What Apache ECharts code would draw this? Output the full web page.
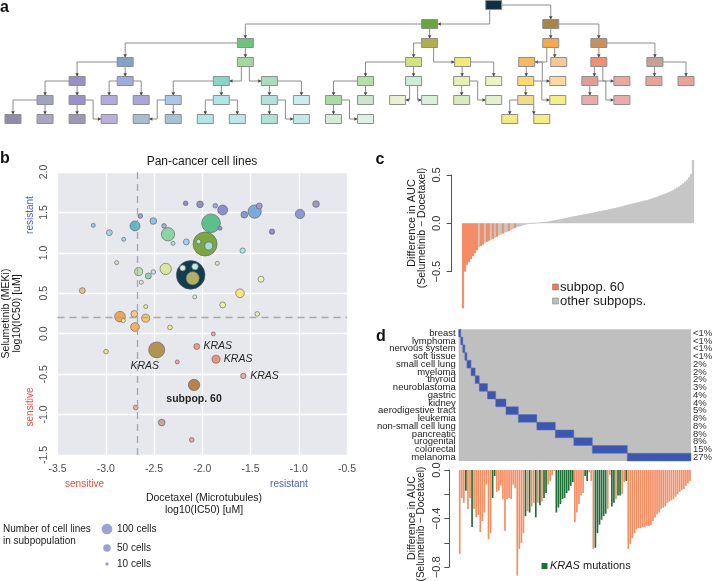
<!DOCTYPE html>
<html><head><meta charset="utf-8">
<script src="https://cdn.jsdelivr.net/npm/echarts@6/dist/echarts.min.js"></script>
<style>html,body{margin:0;padding:0;background:#fff}#c{width:713px;height:581px}</style>
</head><body><div id="c"></div>
<script>
// ===== Panel a: hierarchy of subpopulations =====
const treeCols = [15, 13,16.78, 7.25,13,16.78,18.28,
  3.5,7.25,12.5,14.03,16.03,17.03,18.28,20.03,
  2,3.5,6.5,8,11,12.5,14,15,16,17,18,19,20,21,
  1,2,3,4,5,6.5,8,9,10,11,12,13,14,15,16,17,18,19,
  0,1,2,3,4,5,6,7,8,9,10,11,15.5,16.5];
const treeLevels = [0, 1,1, 2,2,2,2,
  3,3,3,3,3,3,3,3,
  4,4,4,4,4,4,4,4,4,4,4,4,4,4,
  5,5,5,5,5,5,5,5,5,5,5,5,5,5,5,5,5,5,
  6,6,6,6,6,6,6,6,6,6,6,6,6,6];
const treeEdges = [[0,1,'v'],[0,2,'h'],[1,3,'h'],[1,4,'d'],[2,5,'d'],[2,6,'h'],
  [3,7,'h'],[3,8,'d'],[4,9,'h'],[4,10,'v'],[5,11,'v'],[5,12,'d'],[6,13,'d'],[6,14,'h'],
  [7,15,'h'],[7,16,'d'],[8,17,'v'],[8,18,'v'],[9,19,'h'],[9,20,'d'],[10,21,'d'],[10,22,'h'],
  [11,23,'d'],[11,24,'z'],[13,25,'d'],[13,26,'v'],[14,27,'d'],[14,28,'h'],
  [15,29,'h'],[15,30,'d'],[16,31,'h'],[16,32,'h'],[17,33,'h'],[17,34,'d'],[18,35,'d'],[18,36,'h'],
  [19,37,'h'],[19,38,'d'],[20,39,'v'],[20,40,'v'],[21,41,'d'],[21,42,'z'],[23,43,'d'],[23,44,'z'],
  [25,45,'d'],[25,46,'z'],[29,47,'h'],[29,48,'d'],[30,49,'d'],[30,50,'z'],[33,51,'z'],[33,52,'d'],
  [34,53,'h'],[34,54,'h'],[35,55,'d'],[35,56,'z'],[37,57,'d'],[37,58,'z'],[43,59,'h'],[43,60,'d']];
const treeColors = ['#0f2d44','#6aa53c','#a88446','#70c37a','#aeb04e','#f6a94a','#c98f5f',
  '#80a3c6','#a2d89e','#d5e283','#efea7b','#f8b862','#f7c79b','#ec9174','#c7a193',
  '#9b8fc9','#a1aadf','#8ad6c6','#abdcc2','#b7e0a8','#d0eadb','#e6efb4','#eef3c4','#fcd875','#fbd9a2','#e09c9a','#e6aaa0','#e6a496','#e8a496',
  '#a2a3bf','#9c90c8','#b3aadd','#aba6da','#a9c8e8','#b2e6e6','#b2e2d8','#cbeded','#a9dca2','#cbe6cc','#e9f1d2','#d9f0da','#dbe9bc','#e7f0cc','#f2dc8c','#f6ee8a','#e6adaa','#e6adaa',
  '#8f8da9','#a9a5c2','#9d99b5','#baaedd','#a9bdd1','#a9c1d6','#b2e7e7','#bee7e7','#b2e1d6','#c2e9e6','#d5ecda','#ddf1e7','#f4ea82','#f4ee84'];

// ===== Panel b: subpopulation bubbles =====
const bXTicks = [-3.5,-3.0,-2.5,-2.0,-1.5,-1.0,-0.5];
const bYTicks = [-1.5,-1.0,-0.5,0.0,0.5,1.0,1.5,2.0];
const bubbleX = [-2.172,-2.023,-1.865,-1.788,-2.642,-2.507,-2.396,-3.129,-2.697,-1.909,
  -1.816,-2.355,-2.963,-2.814,-2.303,-2.165,-1.971,-2.037,-1.933,-2.887,
  -1.844,-2.12,-2.203,-2.075,-2.099,-2.379,-2.659,-2.559,-2.507,-2.632,
  -3.243,-1.609,-2.078,-1.788,-2.586,-1.391,-1.564,-1.457,-1.409,-1.581,
  -1.277,-0.987,-0.821,-1.43,-2.852,-2.818,-2.704,-2.586,-2.697,-2.334,
  -1.885,-2.057,-2.472,-2.997,-2.259,-1.857,-1.575,-2.085,-2.69,-2.42,-2.109];
const bubbleY = [1.613,1.60,1.583,1.53,1.456,1.394,1.333,1.341,1.333,1.366,
  1.304,1.23,1.25,1.168,1.118,1.135,1.11,1.139,1.085,0.879,
  0.871,0.727,0.813,0.83,0.686,0.801,0.768,0.714,0.764,0.636,
  0.533,0.50,0.455,0.356,0.335,0.674,1.472,1.51,1.58,1.027,
  1.262,1.481,1.604,0.245,0.211,0.162,0.245,0.192,0.083,0.078,
  -0.002,-0.159,-0.20,-0.221,-0.349,-0.315,-0.522,-0.633,-0.913,-1.099,-1.313];
const bubbleCells = [19,39,19,87,19,39,19,14,87,305,
  14,155,31,14,14,31,503,19,56,14,
  14,718,31,39,155,112,56,31,19,14,
  31,66,14,31,14,31,39,155,31,25,
  25,76,39,19,99,14,39,56,66,19,
  14,31,224,19,14,56,25,113,19,39,19];
const bubbleNotes = {51:'KRAS', 52:'KRAS', 55:'KRAS', 56:'KRAS', 57:'subpop. 60'};
const cutDocetaxel = -2.67;
const cutSelumetinib = 0.2;
const legendCells = [100, 50, 10];
// styles (colours per bubble)
const bubbleColors = ['#8d8fc9','#9090cc','#a5a7d6','#8b8fd0','#90a8cc','#8ec2e6','#a6b0d8','#9ccbe6','#62b7c4','#5cbf8e',
  '#9a95cc','#8fd2a4','#a3d3ea','#a8d2ea','#b4e2d2','#a0d4ec','#79a843','#b0e4e8','#a6dcd8','#c4e6c0',
  '#dce8d0','#0f3d52','#dff0d8','#c6e8dc','#b5ad66','#dce6a0','#bedfb4','#98d0b4','#c4dde8','#d8eadc',
  '#f2b888','#f2e57a','#e2ecc8','#eef0a8','#f4e98a','#eef2c4','#8898d0','#7aaad8','#9da0c8','#b0e2ec',
  '#8c8fd0','#8a9ad4','#9a96d0','#e6f0c8','#f4a456','#f6ee9a','#f8ca80','#f6c866','#f6b060','#f4ec8c',
  '#e8aaa8','#e4a090','#b39254','#f8dc9a','#eca8a4','#ec9278','#e8aaa0','#b5824e','#e6a8a4','#c9a49c','#e6a8a4'];

// ===== Panel c: all cell lines, sorted AUC difference =====
const aucDiffAll = [-0.88,-0.50,-0.43,-0.40,-0.37,-0.34,-0.31,-0.28,-0.25,-0.235,
  -0.22,-0.20,-0.19,-0.18,-0.17,-0.16,-0.15,-0.14,-0.125,-0.115,
  -0.105,-0.095,-0.09,-0.08,-0.07,-0.058,-0.05,-0.04,-0.034,-0.028,
  -0.02,-0.015,-0.01,-0.006,-0.003,0.001,0.003,0.006,0.008,0.011,
  0.013,0.015,0.017,0.021,0.025,0.029,0.033,0.037,0.041,0.045,
  0.049,0.054,0.058,0.062,0.067,0.071,0.075,0.079,0.083,0.087,
  0.091,0.095,0.099,0.103,0.107,0.111,0.116,0.12,0.124,0.128,
  0.132,0.136,0.14,0.145,0.149,0.154,0.158,0.163,0.168,0.174,
  0.179,0.185,0.19,0.196,0.201,0.206,0.211,0.216,0.221,0.226,
  0.231,0.236,0.24,0.247,0.254,0.261,0.268,0.276,0.283,0.291,
  0.298,0.306,0.315,0.324,0.333,0.342,0.355,0.368,0.381,0.395,
  0.412,0.43,0.45,0.475,0.51,0.655];
const inSubpop60 = [1,1,1,1,1,1,1,1,0,1, 1,0,1,1,0,1,0,1,0,0, 1,0,0,1,0,0,1,0,0,0,
  0,0,0,0,0,0,0,0,0,0, 0,0,0,0,0,0,0,0,0,0, 0,0,0,0,0,0,0,0,0,0,
  0,0,0,0,0,0,0,0,0,0, 0,0,0,0,0,0,0,0,0,0, 0,0,0,0,0,0,0,0,0,0,
  0,0,0,0,0,0,0,0,0,0, 0,0,0,0,0,0,0,0,0,0, 0,0,0,0,0,0];
const cTicks = [-0.5, 0.0, 0.5];

// ===== Panel d: subpop. 60 by tissue =====
const tissues = ['breast','lymphoma','nervous system','soft tissue','small cell lung','myeloma','thyroid',
  'neuroblastoma','gastric','kidney','aerodigestive tract','leukemia','non-small cell lung','pancreatic',
  'urogenital','colorectal','melanoma'];
const tissueCounts = [1,1,1,1,2,2,2,4,4,5,6,9,9,9,9,17,31];
const tissuePct = ['<1%','<1%','<1%','<1%','2%','2%','2%','3%','4%','4%','5%','8%','8%','8%','8%','15%','27%'];
const subpop60Diff = [-0.69,-0.23,-0.27,-0.17,-0.32,-0.23,-0.47,-0.32,-0.39,-0.37,
  -0.51,-0.42,-0.35,-0.12,-0.57,-0.52,-0.23,-0.05,-0.18,-0.17,
  -0.13,-0.24,-0.50,-0.24,-0.23,-0.24,-0.12,-0.15,-0.87,-0.65,
  -0.60,-0.52,-0.38,-0.34,-0.35,-0.30,-0.27,-0.39,-0.27,-0.29,
  -0.26,-0.23,-0.19,-0.12,-0.09,-0.04,-0.01,-0.35,-0.31,-0.28,
  -0.24,-0.23,-0.19,-0.17,-0.13,-0.10,-0.43,-0.35,-0.28,-0.21,
  -0.19,-0.05,-0.09,-0.02,-0.09,-0.65,-0.64,-0.52,-0.45,-0.41,
  -0.38,-0.36,-0.32,-0.04,-0.30,-0.27,-0.24,-0.21,-0.21,-0.20,
  -0.10,-0.09,
  -0.65,-0.61,-0.56,-0.52,-0.49,-0.48,-0.48,-0.47,-0.47,-0.46,
  -0.46,-0.455,-0.42,-0.39,-0.365,-0.35,-0.32,-0.31,-0.30,-0.27,
  -0.26,-0.25,-0.24,-0.22,-0.20,-0.18,-0.165,-0.155,-0.13,-0.11,-0.09];
const krasMut = [0,0,0,1,0,0,1,0,0,0, 0,0,0,0,0,0,1,1,0,0, 0,0,0,0,0,0,0,0,0,0,
  0,0,1,0,1,0,0,1,0,1, 0,1,1,0,0,0,0,1,1,1, 1,1,1,1,1,1,0,0,0,0,
  0,1,1,0,0,0,1,1,1,1, 1,1,0,0,1,1,0,1,1,0, 0,1,
  0,0,0,0,0,0,0,0,0,0, 0,0,0,0,0,0,0,0,0,0, 0,0,0,0,0,0,0,0,0,0,0];
const dTicks = [-0.8,-0.6,-0.4,-0.2,0.0];

// ===== build =====
const FF = 'Liberation Sans, Arial, sans-serif';
const ORANGE_C = '#f27a4e', GRAY_C = '#bdbdbd', ORANGE_D = '#f58d62', GREEN_D = '#1f6e36', BLUE_D = '#3d57b0';
const bubbleSize = n => 10.7 * Math.sqrt(n / 100);
const minus = s => s.replace('-', '\u2212');

// layout
const C_TOP = 159.5, C_H = 148.9, C_MIN = -0.88, C_MAX = 0.66;
const cPpu = C_H / (C_MAX - C_MIN);
const D_TOP = 470, D_PPU = 121.5, D_MIN = -0.9;

const labelPlace = {
  51: {position:'right', distance:3.5},
  52: {position:'bottom', distance:2, offset:[-12,0]},
  55: {position:'right', distance:3.5},
  56: {position:'right', distance:4},
  57: {position:'bottom', distance:3}
};
const bubbleData = bubbleX.map((x, i) => {
  const item = {value:[x, bubbleY[i], bubbleCells[i]], itemStyle:{color:bubbleColors[i]}};
  if (bubbleNotes[i]) {
    const bold = bubbleNotes[i].startsWith('subpop');
    item.label = Object.assign({show:true, formatter:bubbleNotes[i], fontFamily:FF, fontSize:10.5,
      color:'#262626', fontStyle: bold ? 'normal' : 'italic', fontWeight: bold ? 'bold' : 'normal'}, labelPlace[i]);
  }
  return item;
}).sort((a, b) => b.value[2] - a.value[2]);

let acc = 0;
const tissueBlocks = tissueCounts.map((n, i) => { const r = [acc, acc + n, i]; acc += n; return r; });
const nCells = acc;

function arrowDown(x, y){ return [[x-1.8,y-3.2],[x+1.8,y-3.2],[x,y]]; }
function arrowSide(x, y, s){ return [[x-3.2*s,y-1.8],[x-3.2*s,y+1.8],[x,y]]; }

const option = {
  animation:false,
  textStyle:{fontFamily:FF},
  grid:[
    {left:13, top:5, width:673, height:114, show:false, outerBoundsMode:'none'},
    {left:57.5, top:172, width:289.5, height:283, show:true, backgroundColor:'#e6e8ee', borderWidth:0, outerBoundsMode:'none'},
    {left:462, top:C_TOP, width:232, height:C_H, outerBoundsMode:'none'},
    {left:451.7, top:C_TOP + (C_MAX - 0.5) * cPpu, width:10, height:cPpu, outerBoundsMode:'none'},
    {left:458.7, top:329.3, width:232.3, height:131.7, show:true, backgroundColor:'#bfbfbf', borderWidth:0, outerBoundsMode:'none'},
    {left:458.7, top:D_TOP, width:232.3, height:-D_MIN * D_PPU, outerBoundsMode:'none'},
    {left:449.3, top:D_TOP, width:10, height:0.8 * D_PPU, outerBoundsMode:'none'}
  ],
  xAxis:[
    {gridIndex:0, type:'value', min:0, max:21, show:false},
    {gridIndex:1, type:'value', min:bXTicks[0], max:bXTicks[bXTicks.length-1], interval:0.5,
      axisLine:{show:false}, axisTick:{show:false},
      splitLine:{show:true, lineStyle:{color:'#ffffff', width:1.3}},
      axisLabel:{color:'#4d4d4d', fontSize:10.5, margin:9, fontFamily:FF, formatter:v => v.toFixed(1)}},
    {gridIndex:2, type:'category', data:aucDiffAll.map((_, i) => i), show:false},
    {gridIndex:3, type:'value', min:0, max:1, show:false},
    {gridIndex:4, type:'value', min:0, max:nCells, show:false},
    {gridIndex:5, type:'category', data:subpop60Diff.map((_, i) => i), show:false},
    {gridIndex:6, type:'value', min:0, max:1, show:false}
  ],
  yAxis:[
    {gridIndex:0, type:'value', min:0, max:6, inverse:true, show:false},
    {gridIndex:1, type:'value', min:bYTicks[0], max:bYTicks[bYTicks.length-1], interval:0.5,
      axisLine:{show:false}, axisTick:{show:false},
      splitLine:{show:true, lineStyle:{color:'#ffffff', width:1.3}},
      axisLabel:{rotate:90, color:'#4d4d4d', fontSize:10.5, margin:8, fontFamily:FF, formatter:v => v.toFixed(1)}},
    {gridIndex:2, type:'value', min:C_MIN, max:C_MAX, show:false},
    {gridIndex:3, type:'value', min:cTicks[0], max:cTicks[cTicks.length-1], interval:0.5,
      axisLine:{show:true, lineStyle:{color:'#555', width:1}},
      axisTick:{show:true, length:5, lineStyle:{color:'#555'}},
      splitLine:{show:false},
      axisLabel:{rotate:90, color:'#333', fontSize:11, margin:9, fontFamily:FF, formatter:v => minus(v.toFixed(1))}},
    {gridIndex:4, type:'category', data:tissues, inverse:true,
      axisLine:{show:false}, axisTick:{show:false},
      axisLabel:{color:'#1a1a1a', fontSize:9.5, margin:3, fontFamily:FF, interval:0}},
    {gridIndex:4, type:'category', data:tissues, inverse:true, position:'right',
      axisLine:{show:false}, axisTick:{show:false},
      axisLabel:{color:'#333', fontSize:9.5, margin:2, fontFamily:FF, interval:0, formatter:(v, i) => tissuePct[i]}},
    {gridIndex:5, type:'value', min:D_MIN, max:0, show:false},
    {gridIndex:6, type:'value', min:dTicks[0], max:dTicks[dTicks.length-1], interval:0.2,
      axisLine:{show:true, lineStyle:{color:'#555', width:1}},
      axisTick:{show:true, length:5, lineStyle:{color:'#555'}},
      splitLine:{show:false},
      axisLabel:{rotate:90, color:'#333', fontSize:11, margin:7, fontFamily:FF, showMinLabel:true, showMaxLabel:true,
        formatter:v => (Math.abs(Math.round(v * 10)) % 4 === 0 ? minus(v.toFixed(1)) : '')}}
  ],
  series:[
    {type:'custom', xAxisIndex:0, yAxisIndex:0, z:1,
      data:treeEdges.map(e => [treeCols[e[0]], treeLevels[e[0]], treeCols[e[1]], treeLevels[e[1]]]),
      encode:{x:[0,2], y:[1,3]},
      renderItem:(params, api) => {
        const e = treeEdges[params.dataIndex];
        const P = api.coord([treeCols[e[0]], treeLevels[e[0]]]);
        const C = api.coord([treeCols[e[1]], treeLevels[e[1]]]);
        const hw = 8, hh = 4.5, s = C[0] >= P[0] ? 1 : -1;
        let pts, arr;
        if (e[2] === 'd') {
          const mx = (P[0] + C[0]) / 2;
          pts = [[mx, P[1] + hh], [mx, C[1] - hh]]; arr = arrowDown(mx, C[1] - hh);
        } else if (e[2] === 'h') {
          pts = [[P[0] + s * hw, P[1]], [C[0], P[1]], [C[0], C[1] - hh]]; arr = arrowDown(C[0], C[1] - hh);
        } else if (e[2] === 'v') {
          const vx = P[0] + s * 4;
          pts = [[vx, P[1] + hh], [vx, C[1]], [C[0] - s * hw, C[1]]]; arr = arrowSide(C[0] - s * hw, C[1], s);
        } else {
          const mx = (P[0] + C[0]) / 2;
          pts = [[P[0] + s * hw, P[1]], [mx, P[1]], [mx, C[1]], [C[0] - s * hw, C[1]]]; arr = arrowSide(C[0] - s * hw, C[1], s);
        }
        return {type:'group', children:[
          {type:'polyline', shape:{points:pts}, style:{stroke:'#8c8c8c', lineWidth:1, fill:null}},
          {type:'polygon', shape:{points:arr}, style:{fill:'#4a4a4a'}}
        ]};
      }},
    {type:'custom', xAxisIndex:0, yAxisIndex:0, z:2,
      data:treeCols.map((c, i) => [c, treeLevels[i]]),
      renderItem:(params, api) => {
        const p = api.coord([api.value(0), api.value(1)]);
        return {type:'rect', shape:{x:p[0] - 8, y:p[1] - 4.5, width:16, height:9},
          style:{fill:treeColors[params.dataIndex], stroke:'#8f8f8f', lineWidth:1}};
      }},
    {type:'line', xAxisIndex:1, yAxisIndex:1, data:[], z:1, silent:true,
      markLine:{silent:true, symbol:'none', label:{show:false}, animation:false,
        lineStyle:{color:'#a8a8a8', width:1.3, type:[7,5]},
        data:[{xAxis:cutDocetaxel}, {yAxis:cutSelumetinib}]}},
    {type:'scatter', xAxisIndex:1, yAxisIndex:1, z:3,
      symbolSize:v => bubbleSize(v[2]),
      itemStyle:{borderColor:'#5a5a5a', borderWidth:0.6, opacity:1},
      data:bubbleData},
    {type:'bar', xAxisIndex:2, yAxisIndex:2, barCategoryGap:'0%',
      data:aucDiffAll.map((v, i) => {
        const col = inSubpop60[i] ? ORANGE_C : GRAY_C;
        return {value:v, itemStyle:{color:col, borderColor:col, borderWidth:0.6}};
      })},
    {type:'custom', xAxisIndex:4, yAxisIndex:4,
      data:tissueBlocks, encode:{x:[0,1], y:2},
      renderItem:(params, api) => {
        const a = api.coord([api.value(0), api.value(2)]);
        const b = api.coord([api.value(1), api.value(2)]);
        const h = api.size([0, 1])[1];
        return {type:'rect', shape:{x:a[0], y:a[1] - h / 2, width:b[0] - a[0], height:h},
          style:{fill:BLUE_D, stroke:'#5b6fb8', lineWidth:0.5}};
      }},
    {type:'bar', xAxisIndex:5, yAxisIndex:6, barCategoryGap:'18%',
      data:subpop60Diff.map((v, i) => ({value:v, itemStyle:{color: krasMut[i] ? GREEN_D : ORANGE_D}}))}
  ],
  graphic:[
    {type:'text', x:4.5, y:8, style:{text:'a', font:'bold 16px ' + FF, fill:'#111', align:'center', verticalAlign:'middle'}},
    {type:'text', x:5, y:159, style:{text:'b', font:'bold 16px ' + FF, fill:'#111', align:'center', verticalAlign:'middle'}},
    {type:'text', x:380, y:160, style:{text:'c', font:'bold 16px ' + FF, fill:'#111', align:'center', verticalAlign:'middle'}},
    {type:'text', x:381, y:337, style:{text:'d', font:'bold 16px ' + FF, fill:'#111', align:'center', verticalAlign:'middle'}},
    {type:'text', x:202, y:162, style:{text:'Pan-cancer cell lines', font:'12px ' + FF, fill:'#1a1a1a', align:'center', verticalAlign:'middle'}},
    {type:'text', x:6, y:313.5, rotation:Math.PI/2, style:{text:'Selumetinib (MEKi)', font:'10.5px ' + FF, fill:'#1a1a1a', align:'center', verticalAlign:'middle'}},
    {type:'text', x:17.5, y:313.5, rotation:Math.PI/2, style:{text:'log10(IC50) [uM]', font:'10.5px ' + FF, fill:'#1a1a1a', align:'center', verticalAlign:'middle'}},
    {type:'text', x:30, y:215, rotation:Math.PI/2, style:{text:'resistant', font:'10px ' + FF, fill:'#4a5dc6', align:'center', verticalAlign:'middle'}},
    {type:'text', x:30, y:407, rotation:Math.PI/2, style:{text:'sensitive', font:'10px ' + FF, fill:'#f04b3c', align:'center', verticalAlign:'middle'}},
    {type:'text', x:84.5, y:484, style:{text:'sensitive', font:'10px ' + FF, fill:'#f04b3c', align:'center', verticalAlign:'middle'}},
    {type:'text', x:289, y:484, style:{text:'resistant', font:'10px ' + FF, fill:'#4a5dc6', align:'center', verticalAlign:'middle'}},
    {type:'text', x:204, y:498, style:{text:'Docetaxel (Microtubules)', font:'10.5px ' + FF, fill:'#1a1a1a', align:'center', verticalAlign:'middle'}},
    {type:'text', x:204, y:510, style:{text:'log10(IC50) [uM]', font:'10.5px ' + FF, fill:'#1a1a1a', align:'center', verticalAlign:'middle'}},
    {type:'text', x:3, y:529, style:{text:'Number of cell lines', font:'10px ' + FF, fill:'#1a1a1a', align:'left', verticalAlign:'middle'}},
    {type:'text', x:3, y:541, style:{text:'in subpopulation', font:'10px ' + FF, fill:'#1a1a1a', align:'left', verticalAlign:'middle'}},
    ...legendCells.map((n, i) => ({type:'circle', x:107, y:[529, 548, 564][i], shape:{cx:0, cy:0, r:bubbleSize(n) / 2}, style:{fill:'#9aa2d6'}})),
    ...legendCells.map((n, i) => ({type:'text', x:117, y:[529, 548, 564][i], style:{text:n + ' cells', font:'10px ' + FF, fill:'#1a1a1a', align:'left', verticalAlign:'middle'}})),
    {type:'text', x:412, y:223, rotation:Math.PI/2, style:{text:'Difference in AUC', font:'11px ' + FF, fill:'#1a1a1a', align:'center', verticalAlign:'middle'}},
    {type:'text', x:422, y:228, rotation:Math.PI/2, style:{text:'(Selumetinib \u2212 Docetaxel)', font:'10.5px ' + FF, fill:'#1a1a1a', align:'center', verticalAlign:'middle'}},
    {type:'rect', shape:{x:552.5, y:284, width:6, height:6}, style:{fill:ORANGE_C, stroke:'#777', lineWidth:0.5}},
    {type:'rect', shape:{x:552.5, y:298, width:6, height:6}, style:{fill:GRAY_C, stroke:'#777', lineWidth:0.5}},
    {type:'text', x:560, y:287, style:{text:'subpop. 60', font:'13px ' + FF, fill:'#1a1a1a', align:'left', verticalAlign:'middle'}},
    {type:'text', x:560, y:301, style:{text:'other subpops.', font:'13px ' + FF, fill:'#1a1a1a', align:'left', verticalAlign:'middle'}},
    {type:'text', x:412, y:518, rotation:Math.PI/2, style:{text:'Difference in AUC', font:'10.5px ' + FF, fill:'#1a1a1a', align:'center', verticalAlign:'middle'}},
    {type:'text', x:421.5, y:524, rotation:Math.PI/2, style:{text:'(Selumetinib \u2212 Docetaxel)', font:'10px ' + FF, fill:'#1a1a1a', align:'center', verticalAlign:'middle'}},
    {type:'rect', shape:{x:541.5, y:563, width:6, height:6}, style:{fill:GREEN_D}},
    {type:'text', x:550, y:566, style:{text:'{i|KRAS} mutations', font:'11px ' + FF, fill:'#1a1a1a', align:'left', verticalAlign:'middle',
      rich:{i:{fontStyle:'italic', fontSize:11, fontFamily:FF, fill:'#1a1a1a'}}}}
  ]
};
const chart = echarts.init(document.getElementById('c'));
chart.setOption(option);
</script>
</body></html>
